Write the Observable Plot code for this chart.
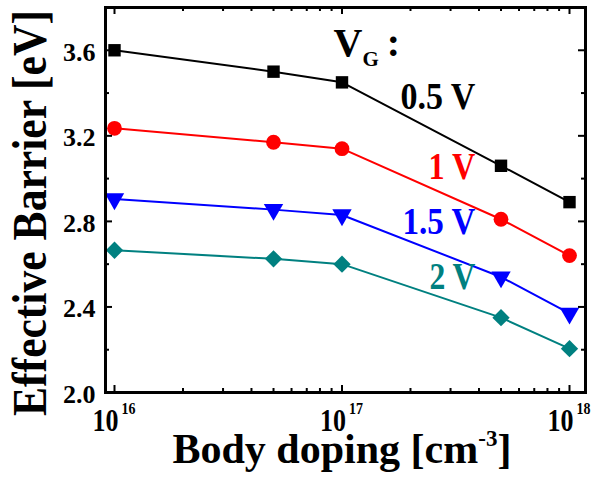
<!DOCTYPE html>
<html>
<head>
<meta charset="utf-8">
<script src="https://cdn.jsdelivr.net/npm/d3@7"></script>
<script src="https://cdn.jsdelivr.net/npm/@observablehq/plot@0.6"></script>
<style>
  html, body { margin: 0; padding: 0; background: #fff; }
  #chart { width: 592px; height: 478px; }
</style>
</head>
<body>
<div id="chart"></div>
<script>
// ---- data ----
const doping = [1e16, 5e16, 1e17, 5e17, 1e18];
const seriesNames = ["0.5 V", "1 V", "1.5 V", "2 V"];
const barrier05 = [3.60, 3.50, 3.45, 3.06, 2.89];
const barrier1  = [3.235, 3.17, 3.14, 2.81, 2.64];
const barrier15 = [2.905, 2.855, 2.83, 2.54, 2.37];
const barrier2  = [2.665, 2.625, 2.60, 2.35, 2.205];
const yTickValues = [2.0, 2.4, 2.8, 3.2, 3.6];
const yMinorValues = [2.2, 2.6, 3.0, 3.4];
const xDecades = [1e16, 1e17, 1e18];
const xExponents = ["16", "17", "18"];
const yLabel = "Effective Barrier [eV]";
const xLabel = "Body doping [cm-3]";
const legendTitle = "VG :";

// ---- styling ----
const colors = ["#000000", "#ff0000", "#0000ff", "#008080"];
const symbols = ["square", "circle", "triangle", "diamond2"];
const rotations = [0, 0, 180, 0];
const radii = [7.0, 7.4, 7.2, 7.8];
const labelLengths = [75, 47, 73, 46];

const values = [barrier05, barrier1, barrier15, barrier2];
const rows = seriesNames.flatMap((s, i) => doping.map((x, j) => ({series: s, x, y: values[i][j]})));

const W = 592, H = 478;
const mL = 105, mR = 7, mT = 7, mB = 86;
const fw = W - mL - mR, fh = H - mT - mB;

const minor = [];
for (let e = 15; e <= 18; e++) for (let k = 2; k <= 9; k++) {
  const v = k * Math.pow(10, e);
  if (v > 9.2e15 && v < 1.17e18) minor.push(v);
}

const font = "'Liberation Serif', 'Times New Roman', serif";

const marks = [
  ...seriesNames.map((s, i) => Plot.line(rows.filter(r => r.series === s), {x: "x", y: "y", stroke: colors[i], strokeWidth: 2})),
  ...seriesNames.map((s, i) => Plot.dot(rows.filter(r => r.series === s), {x: "x", y: "y", fill: colors[i], stroke: "none", symbol: symbols[i], r: radii[i], rotate: rotations[i]})),
  Plot.tickX(xDecades, {x: d => d, insetTop: fh - 7, strokeWidth: 2}),
  Plot.tickX(xDecades, {x: d => d, insetBottom: fh - 7, strokeWidth: 2}),
  Plot.tickX(minor, {x: d => d, insetTop: fh - 4, strokeWidth: 2}),
  Plot.tickX(minor, {x: d => d, insetBottom: fh - 4, strokeWidth: 2}),
  Plot.tickY(yTickValues, {y: d => d, insetRight: fw - 7, strokeWidth: 2}),
  Plot.tickY(yTickValues, {y: d => d, insetLeft: fw - 7, strokeWidth: 2}),
  Plot.tickY(yMinorValues, {y: d => d, insetRight: fw - 4, strokeWidth: 2}),
  Plot.tickY(yMinorValues, {y: d => d, insetLeft: fw - 4, strokeWidth: 2}),
  Plot.frame({strokeWidth: 3}),
  Plot.text(yTickValues, {y: d => d, frameAnchor: "left", dx: -10, dy: 2, textAnchor: "end", lineAnchor: "middle", text: d3.format(".1f"), fontSize: 26, fontWeight: "bold", fill: "#000"}),
  Plot.text(xDecades, {x: d => d, frameAnchor: "bottom", dx: 4, dy: 38, textAnchor: "end", lineAnchor: "bottom", text: () => "10", fontSize: 32, fontWeight: "bold", fill: "#000"}),
  Plot.text(xDecades, {x: d => d, frameAnchor: "bottom", dx: 7, dy: 21, textAnchor: "start", lineAnchor: "bottom", text: (d, i) => xExponents[i], fontSize: 17, fontWeight: "bold", fill: "#000"}),
  Plot.text([yLabel], {frameAnchor: "left", rotate: -90, dx: -60, dy: 13, textAnchor: "middle", lineAnchor: "bottom", text: d => d, fontSize: 49, fontWeight: "bold", fill: "#000"}),
  Plot.text([xLabel], {frameAnchor: "bottom-left", dx: 67, dy: 70, textAnchor: "start", lineAnchor: "bottom", text: d => d, fontSize: 42, fontWeight: "bold", fill: "#000"}),
  Plot.text([legendTitle], {x: () => 9.18e16, y: () => 3.573, textAnchor: "start", lineAnchor: "bottom", text: d => d, fontSize: 40, fontWeight: "bold", fill: "#000"}),
  ...seriesNames.map((s, i) => Plot.text([s], {x: () => 3.86e17, y: () => [3.326, 2.999, 2.742, 2.486][i], textAnchor: "end", lineAnchor: "bottom", text: d => d, fontSize: 38, fontWeight: "bold", fill: colors[i]}))
];

const chart = Plot.plot({
  width: W,
  height: H,
  marginLeft: mL,
  marginRight: mR,
  marginTop: mT,
  marginBottom: mB,
  style: {fontFamily: font, fontWeight: "bold", background: "#fff", color: "#000"},
  x: {type: "log", domain: [Math.pow(10, 16 - 9 / 227.5), Math.pow(10, 18 + 16 / 227.5)], axis: null},
  y: {domain: [2.0, 3.8], axis: null},
  marks
});

// narrow text widths to match the condensed look, and add super/subscripts
const lengths = new Map([["10", 26], [yLabel, 406], ...seriesNames.map((s, i) => [s, labelLengths[i]]), ["16", 14], ["17", 14], ["18", 14]]);
d3.select(chart).selectAll("text").each(function () {
  const t = d3.select(this);
  const content = this.textContent;
  if (lengths.has(content)) {
    t.attr("textLength", lengths.get(content)).attr("lengthAdjust", "spacingAndGlyphs");
  }
  if (content === xLabel) {
    t.text(null);
    t.append("tspan").text("Body doping [cm");
    t.append("tspan").attr("dy", -17).attr("font-size", 23).text("-3");
    t.append("tspan").attr("dy", 17).text("]");
  } else if (content === legendTitle) {
    t.text(null);
    t.append("tspan").text("V");
    t.append("tspan").attr("dy", 10).attr("font-size", 21).text("G");
    t.append("tspan").attr("dy", -10).attr("dx", 8).text(":");
  }
});

document.getElementById("chart").appendChild(chart);
</script>
</body>
</html>
